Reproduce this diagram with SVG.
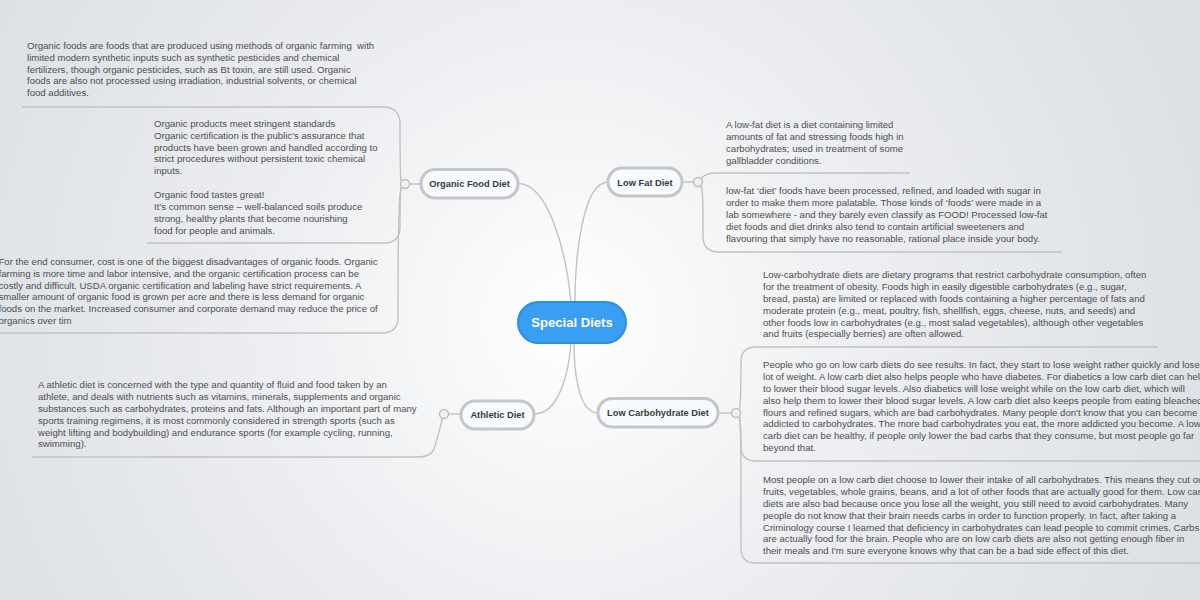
<svg xmlns="http://www.w3.org/2000/svg" width="1200" height="600" viewBox="0 0 1200 600">
<defs>
<radialGradient id="bg" cx="570" cy="320" r="680" gradientUnits="userSpaceOnUse">
<stop offset="0" stop-color="#ffffff"/>
<stop offset="0.45" stop-color="#eceef1"/>
<stop offset="1" stop-color="#dcdfe3"/>
</radialGradient>
<style>
.leaf{font-family:"Liberation Sans",Arial,sans-serif;font-size:9.6px;fill:#4f4f4f;white-space:pre}
.lbl{font-family:"Liberation Sans",Arial,sans-serif;font-size:9.3px;font-weight:bold;fill:#3a3a3a;text-anchor:middle}
.node{fill:#f7faff;stroke:#c6c6c6;stroke-width:3}
.con{fill:none;stroke:#c2c2c2;stroke-width:1.4}
.dot{fill:#eff1f3;stroke:#bdbdbd;stroke-width:1.4}
</style>
</defs>
<rect x="0" y="0" width="1200" height="600" fill="url(#bg)"/>

<g id="connectors">
<path class="con" d="M518 183.5 C548 183.5 566 250 571 302"/>
<path class="con" d="M608 182 C582 182 575 260 575 302"/>
<path class="con" d="M534 414 C560 414 569 370 571 343"/>
<path class="con" d="M598 413 C578 413 574 370 574 343"/>
<!-- organic -->
<path class="con" d="M409.5 184 L421 184"/>
<path class="con" d="M401 181 C400 175 400 165 400 124 Q400 107 383 107 L22 107"/>
<path class="con" d="M401 187 C400 195 400 205 400 227 Q400 243 384 243 L147 243"/>
<path class="con" d="M401 187 C399 200 398 220 398 317 Q398 333 382 333 L0 333"/>
<!-- low fat -->
<path class="con" d="M682 182 L693.5 182"/>
<path class="con" d="M701.5 178 Q706 173 716 173 L910 173"/>
<path class="con" d="M701 185.5 C703 192 703 200 703 236 Q703 252 719 252 L1062 252"/>
<!-- athletic -->
<path class="con" d="M448.5 414 L461 414"/>
<path class="con" d="M442.5 418.5 C438 435 436 445 433 451 Q429 457 418 457 L32 457"/>
<!-- low carb -->
<path class="con" d="M718 413 L731.5 413"/>
<path class="con" d="M739.5 409.5 C741 400 741 390 741 362 Q741 347 756 347 L1158 347"/>
<path class="con" d="M739.5 416.5 C741 425 741 435 741 446 Q741 461 756 461 L1200 461"/>
<path class="con" d="M739.5 416.5 C741 430 741 450 741 548 Q741 563 756 563 L1200 563"/>
<circle class="dot" cx="405" cy="184" r="4.5"/>
<circle class="dot" cx="698" cy="182" r="4.5"/>
<circle class="dot" cx="444" cy="414" r="4.5"/>
<circle class="dot" cx="736" cy="413" r="4.5"/>
</g>

<g id="center">
<rect x="518" y="302" width="108" height="41" rx="20.5" fill="#3a9ef2" stroke="#2e8fe0" stroke-width="2"/>
<text x="572" y="326.6" font-family="Liberation Sans, Arial, sans-serif" font-size="13.1" font-weight="bold" fill="#ffffff" text-anchor="middle">Special Diets</text>
</g>

<g id="organic">
<rect class="node" x="421" y="169.5" width="97" height="28.5" rx="14"/>
<text class="lbl" x="469.5" y="187.2">Organic Food Diet</text>
</g>
<g id="lowfat">
<rect class="node" x="608" y="168" width="74" height="28" rx="14"/>
<text class="lbl" x="645" y="185.5">Low Fat Diet</text>
</g>
<g id="athletic">
<rect class="node" x="461" y="401" width="73" height="28" rx="14"/>
<text class="lbl" x="497.5" y="418.3">Athletic Diet</text>
</g>
<g id="lowcarb">
<rect class="node" x="598" y="398.5" width="120" height="28.5" rx="14"/>
<text class="lbl" x="658" y="416">Low Carbohydrate Diet</text>
</g>

<g id="organic-leaf-1">
<text class="leaf" x="27" y="49.3"><tspan x="27">Organic foods are foods that are produced using methods of organic farming  with</tspan><tspan x="27" dy="11.7">limited modern synthetic inputs such as synthetic pesticides and chemical</tspan><tspan x="27" dy="11.7">fertilizers, though organic pesticides, such as Bt toxin, are still used. Organic</tspan><tspan x="27" dy="11.7">foods are also not processed using irradiation, industrial solvents, or chemical</tspan><tspan x="27" dy="11.7">food additives.</tspan></text>
</g>
<g id="organic-leaf-2">
<text class="leaf" x="154" y="126.6"><tspan x="154">Organic products meet stringent standards</tspan><tspan x="154" dy="11.95">Organic certification is the public’s assurance that</tspan><tspan x="154" dy="11.95">products have been grown and handled according to</tspan><tspan x="154" dy="11.95">strict procedures without persistent toxic chemical</tspan><tspan x="154" dy="11.95">inputs.</tspan><tspan x="154" dy="23.9">Organic food tastes great!</tspan><tspan x="154" dy="11.95">It’s common sense – well-balanced soils produce</tspan><tspan x="154" dy="11.95">strong, healthy plants that become nourishing</tspan><tspan x="154" dy="11.95">food for people and animals.</tspan></text>
</g>
<g id="organic-leaf-3">
<text class="leaf" x="-1.5" y="265"><tspan x="-1.5">For the end consumer, cost is one of the biggest disadvantages of organic foods. Organic</tspan><tspan x="-1.5" dy="11.75">farming is more time and labor intensive, and the organic certification process can be</tspan><tspan x="-1.5" dy="11.75">costly and difficult. USDA organic certification and labeling have strict requirements. A</tspan><tspan x="-1.5" dy="11.75">smaller amount of organic food is grown per acre and there is less demand for organic</tspan><tspan x="-1.5" dy="11.75">foods on the market. Increased consumer and corporate demand may reduce the price of</tspan><tspan x="-1.5" dy="11.75">organics over tim</tspan></text>
</g>
<g id="athletic-leaf">
<text class="leaf" x="38" y="388.3"><tspan x="38">A athletic diet is concerned with the type and quantity of fluid and food taken by an</tspan><tspan x="38" dy="11.8">athlete, and deals with nutrients such as vitamins, minerals, supplements and organic</tspan><tspan x="38" dy="11.8">substances such as carbohydrates, proteins and fats. Although an important part of many</tspan><tspan x="38" dy="11.8">sports training regimens, it is most commonly considered in strength sports (such as</tspan><tspan x="38" dy="11.8">weight lifting and bodybuilding) and endurance sports (for example cycling, running,</tspan><tspan x="38" dy="11.8">swimming).</tspan></text>
</g>
<g id="lowfat-leaf-1">
<text class="leaf" x="726" y="128.3"><tspan x="726">A low-fat diet is a diet containing limited</tspan><tspan x="726" dy="11.9">amounts of fat and stressing foods high in</tspan><tspan x="726" dy="11.9">carbohydrates; used in treatment of some</tspan><tspan x="726" dy="11.9">gallbladder conditions.</tspan></text>
</g>
<g id="lowfat-leaf-2">
<text class="leaf" x="726" y="194.3"><tspan x="726">low-fat ‘diet’ foods have been processed, refined, and loaded with sugar in</tspan><tspan x="726" dy="11.8">order to make them more palatable. Those kinds of ‘foods’ were made in a</tspan><tspan x="726" dy="11.8">lab somewhere - and they barely even classify as FOOD! Processed low-fat</tspan><tspan x="726" dy="11.8">diet foods and diet drinks also tend to contain artificial sweeteners and</tspan><tspan x="726" dy="11.8">flavouring that simply have no reasonable, rational place inside your body.</tspan></text>
</g>
<g id="lowcarb-leaf-1">
<text class="leaf" x="763" y="278.3"><tspan x="763">Low-carbohydrate diets are dietary programs that restrict carbohydrate consumption, often</tspan><tspan x="763" dy="11.8">for the treatment of obesity. Foods high in easily digestible carbohydrates (e.g., sugar,</tspan><tspan x="763" dy="11.8">bread, pasta) are limited or replaced with foods containing a higher percentage of fats and</tspan><tspan x="763" dy="11.8">moderate protein (e.g., meat, poultry, fish, shellfish, eggs, cheese, nuts, and seeds) and</tspan><tspan x="763" dy="11.8">other foods low in carbohydrates (e.g., most salad vegetables), although other vegetables</tspan><tspan x="763" dy="11.8">and fruits (especially berries) are often allowed.</tspan></text>
</g>
<g id="lowcarb-leaf-2">
<text class="leaf" x="763" y="368.3"><tspan x="763">People who go on low carb diets do see results. In fact, they start to lose weight rather quickly and lose a</tspan><tspan x="763" dy="11.8">lot of weight. A low carb diet also helps people who have diabetes. For diabetics a low carb diet can help</tspan><tspan x="763" dy="11.8">to lower their blood sugar levels. Also diabetics will lose weight while on the low carb diet, which will</tspan><tspan x="763" dy="11.8">also help them to lower their blood sugar levels. A low carb diet also keeps people from eating bleached</tspan><tspan x="763" dy="11.8">flours and refined sugars, which are bad carbohydrates. Many people don't know that you can become</tspan><tspan x="763" dy="11.8">addicted to carbohydrates. The more bad carbohydrates you eat, the more addicted you become. A low</tspan><tspan x="763" dy="11.8">carb diet can be healthy, if people only lower the bad carbs that they consume, but most people go far</tspan><tspan x="763" dy="11.8">beyond that.</tspan></text>
</g>
<g id="lowcarb-leaf-3">
<text class="leaf" x="763" y="483.3"><tspan x="763">Most people on a low carb diet choose to lower their intake of all carbohydrates. This means they cut out</tspan><tspan x="763" dy="11.8">fruits, vegetables, whole grains, beans, and a lot of other foods that are actually good for them. Low carb</tspan><tspan x="763" dy="11.8">diets are also bad because once you lose all the weight, you still need to avoid carbohydrates. Many</tspan><tspan x="763" dy="11.8">people do not know that their brain needs carbs in order to function properly. In fact, after taking a</tspan><tspan x="763" dy="11.8">Criminology course I learned that deficiency in carbohydrates can lead people to commit crimes. Carbs</tspan><tspan x="763" dy="11.8">are actually food for the brain. People who are on low carb diets are also not getting enough fiber in</tspan><tspan x="763" dy="11.8">their meals and I'm sure everyone knows why that can be a bad side effect of this diet.</tspan></text>
</g>
</svg>
